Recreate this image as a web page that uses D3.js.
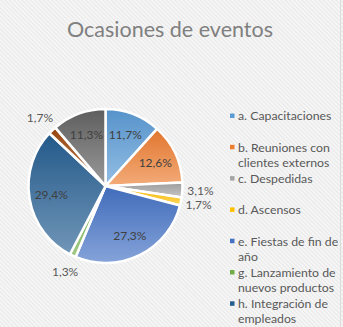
<!DOCTYPE html>
<html>
  <head>
    <meta charset="utf-8" />
    <title>Ocasiones de eventos</title>
    <style>
      body { margin: 0; }
    </style>
  </head>
  <body>
    <svg width="343" height="327" id="mainsvg"></svg>
    <script src="https://cdn.jsdelivr.net/npm/d3@7"></script>
    <script>
      // data
      const categories = [
        "a. Capacitaciones",
        "b. Reuniones con|clientes externos",
        "c. Despedidas",
        "d. Ascensos",
        "e. Fiestas de fin de|año",
        "g. Lanzamiento de|nuevos productos",
        "h. Integración de|empleados",
        "i.",
        "j."
      ];
      const values = [11.7, 12.6, 3.1, 1.7, 27.3, 1.3, 29.4, 1.7, 11.3];
      const labels = ["11,7%", "12,6%", "3,1%", "1,7%", "27,3%", "1,3%", "29,4%", "1,7%", "11,3%"];
      const colors = ["#5B9BD5", "#ED7D31", "#A5A5A5", "#FFC000", "#4472C4", "#70AD47", "#255E91", "#9E480E", "#636363"];
      // true = label sits outside the pie
      const outside = [false, false, true, true, false, true, false, true, false];

      const svg = d3.select("#mainsvg");
      const width = +svg.attr("width");
      const height = +svg.attr("height");
      const font = "Lato, 'Open Sans', sans-serif";

      const defs = svg.append("defs");
      // hatched background
      const pat = defs.append("pattern")
        .attr("id", "hatch")
        .attr("patternUnits", "userSpaceOnUse")
        .attr("width", 3).attr("height", 3)
        .attr("patternTransform", "rotate(-45)");
      pat.append("rect").attr("width", 3).attr("height", 3).attr("fill", "#f7f7f7");
      pat.append("rect").attr("width", 1.2).attr("height", 3).attr("fill", "#e8e8e8");

      svg.append("rect").attr("width", width).attr("height", height).attr("fill", "#f3f3f3");
      svg.append("rect").attr("width", width).attr("height", height).attr("fill", "url(#hatch)");
      svg.append("line")
        .attr("x1", width - 2.5).attr("x2", width - 2.5)
        .attr("y1", 0).attr("y2", height)
        .attr("stroke", "#dcdcdc").attr("stroke-width", 1);

      svg.append("text")
        .attr("x", 170).attr("y", 37)
        .attr("text-anchor", "middle")
        .attr("font-family", font)
        .attr("font-size", 21.5)
        .attr("fill", "#808080")
        .text("Ocasiones de eventos");

      // gradients per slice: darker on top, lighter at the bottom
      colors.forEach((c, i) => {
        const grad = defs.append("linearGradient")
          .attr("id", "grad" + i)
          .attr("x1", 0).attr("y1", 0).attr("x2", 0).attr("y2", 1);
        grad.append("stop").attr("offset", "0%").attr("stop-color", d3.color(c).darker(0.15));
        grad.append("stop").attr("offset", "100%").attr("stop-color", d3.interpolateRgb(c, "#ffffff")(0.35));
      });

      const cx = 105.5, cy = 186, r = 77;
      const g = svg.append("g").attr("transform", `translate(${cx}, ${cy})`);

      const pie = d3.pie().sort(null).value((d) => d);
      const arcs = pie(values);
      const arc = d3.arc().innerRadius(0).outerRadius(r);
      const labelArc = d3.arc().innerRadius(55).outerRadius(55);
      const outArc = d3.arc().innerRadius(r + 18).outerRadius(r + 18);

      g.selectAll("path")
        .data(arcs)
        .join("path")
        .attr("d", arc)
        .attr("fill", (d, i) => `url(#grad${i})`)
        .attr("stroke", "#ffffff")
        .attr("stroke-width", 2.5)
        .attr("stroke-linejoin", "round");

      g.selectAll("text.lbl")
        .data(arcs)
        .join("text")
        .attr("class", "lbl")
        .attr("transform", (d, i) => `translate(${(outside[i] ? outArc : labelArc).centroid(d)})`)
        .attr("text-anchor", "middle")
        .attr("dy", "0.35em")
        .attr("font-family", font)
        .attr("font-size", 12)
        .attr("fill", (d, i) => (outside[i] ? "#595959" : "#404040"))
        .text((d, i) => labels[i]);

      // legend, every entry gets the same slot height
      const legendX = 230, legendY = 116, slot = 31.3, lineH = 15.2;
      const leg = svg.append("g").attr("transform", `translate(${legendX}, ${legendY})`);
      const items = leg.selectAll("g")
        .data(categories)
        .join("g")
        .attr("transform", (d, i) => `translate(0, ${i * slot})`);
      items.append("rect")
        .attr("x", 0).attr("y", -2.5)
        .attr("width", 4.5).attr("height", 4.5)
        .attr("fill", (d, i) => colors[i]);
      items.append("text")
        .attr("font-family", font)
        .attr("font-size", 12.3)
        .attr("fill", "#595959")
        .selectAll("tspan")
        .data((d) => d.split("|"))
        .join("tspan")
        .attr("x", 8)
        .attr("y", (d, j) => j * lineH)
        .attr("dy", "0.35em")
        .text((d) => d);
    </script>
  </body>
</html>
